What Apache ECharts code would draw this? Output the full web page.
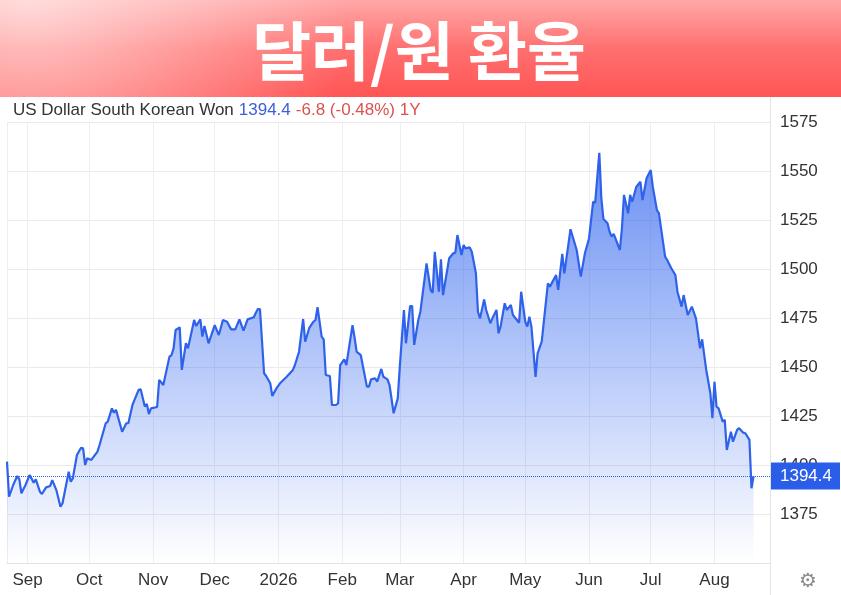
<!DOCTYPE html>
<html>
<head>
<meta charset="utf-8">
<script src="https://cdn.jsdelivr.net/npm/echarts@6.0.0/dist/echarts.min.js"></script>
<style>
  html, body { margin: 0; padding: 0; background: #fff; }
  #chart { width: 841px; height: 595px; }
</style>
</head>
<body>
<div id="chart"></div>
<script>
// 달러/원 환율 - 1년 (값은 그림에서 읽은 근사치)
const titleText = '달러/원 환율';
const pairName = 'US Dollar South Korean Won';
const lastPrice = 1394.4;
const changeText = '-6.8 (-0.48%)';
const rangeText = '1Y';

const axisStart = '2025-08-22';
const axisEnd = '2026-08-28';

const dates = [
  '2025-08-22', '2025-08-23', '2025-08-25', '2025-08-27', '2025-08-28', '2025-08-29', '2025-08-31',
  '2025-09-02', '2025-09-04', '2025-09-05', '2025-09-07', '2025-09-08', '2025-09-10', '2025-09-12',
  '2025-09-13', '2025-09-15', '2025-09-17', '2025-09-18', '2025-09-21', '2025-09-22', '2025-09-23',
  '2025-09-25', '2025-09-27', '2025-09-28', '2025-09-29', '2025-09-30',
  '2025-10-02', '2025-10-05', '2025-10-06', '2025-10-09', '2025-10-10', '2025-10-12', '2025-10-13',
  '2025-10-14', '2025-10-17', '2025-10-19', '2025-10-20', '2025-10-22', '2025-10-23', '2025-10-25',
  '2025-10-26', '2025-10-28', '2025-10-29', '2025-10-30', '2025-10-31',
  '2025-11-03', '2025-11-04', '2025-11-06', '2025-11-09', '2025-11-10', '2025-11-11', '2025-11-12',
  '2025-11-14', '2025-11-15', '2025-11-17', '2025-11-18', '2025-11-21', '2025-11-22', '2025-11-24',
  '2025-11-25', '2025-11-26', '2025-11-28',
  '2025-12-01', '2025-12-03', '2025-12-05', '2025-12-07', '2025-12-09', '2025-12-11', '2025-12-13',
  '2025-12-15', '2025-12-17', '2025-12-20', '2025-12-21', '2025-12-22', '2025-12-23', '2025-12-25',
  '2025-12-26', '2025-12-28', '2025-12-29', '2025-12-31',
  '2026-01-02', '2026-01-03', '2026-01-05', '2026-01-08', '2026-01-09', '2026-01-11', '2026-01-13',
  '2026-01-14', '2026-01-16', '2026-01-18', '2026-01-19', '2026-01-20', '2026-01-22', '2026-01-23',
  '2026-01-24', '2026-01-26', '2026-01-27', '2026-01-29', '2026-01-30', '2026-01-31',
  '2026-02-02', '2026-02-03', '2026-02-06', '2026-02-07', '2026-02-08', '2026-02-10', '2026-02-13',
  '2026-02-14', '2026-02-15', '2026-02-17', '2026-02-18', '2026-02-20', '2026-02-21', '2026-02-23',
  '2026-02-24', '2026-02-26', '2026-02-28',
  '2026-03-01', '2026-03-03', '2026-03-04', '2026-03-06', '2026-03-07', '2026-03-08', '2026-03-10',
  '2026-03-11', '2026-03-14', '2026-03-16', '2026-03-17', '2026-03-18', '2026-03-20', '2026-03-21',
  '2026-03-22', '2026-03-25', '2026-03-27', '2026-03-28', '2026-03-29', '2026-03-31',
  '2026-04-01', '2026-04-02', '2026-04-04', '2026-04-05', '2026-04-07', '2026-04-08', '2026-04-09',
  '2026-04-11', '2026-04-12', '2026-04-14', '2026-04-15', '2026-04-17', '2026-04-18', '2026-04-19',
  '2026-04-21', '2026-04-22', '2026-04-24', '2026-04-25', '2026-04-28', '2026-04-29',
  '2026-05-01', '2026-05-02', '2026-05-03', '2026-05-04', '2026-05-06', '2026-05-07', '2026-05-09',
  '2026-05-12', '2026-05-13', '2026-05-16', '2026-05-17', '2026-05-19', '2026-05-20', '2026-05-23',
  '2026-05-26', '2026-05-28', '2026-05-30',
  '2026-06-01', '2026-06-03', '2026-06-04', '2026-06-06', '2026-06-07', '2026-06-08', '2026-06-10',
  '2026-06-11', '2026-06-12', '2026-06-13', '2026-06-16', '2026-06-17', '2026-06-18', '2026-06-20',
  '2026-06-21', '2026-06-22', '2026-06-24', '2026-06-26', '2026-06-27', '2026-06-29',
  '2026-07-01', '2026-07-02', '2026-07-04', '2026-07-05', '2026-07-08', '2026-07-09', '2026-07-11',
  '2026-07-13', '2026-07-14', '2026-07-16', '2026-07-17', '2026-07-19', '2026-07-21', '2026-07-23',
  '2026-07-25', '2026-07-26', '2026-07-28', '2026-07-30', '2026-07-31',
  '2026-08-01', '2026-08-02', '2026-08-03', '2026-08-05', '2026-08-06', '2026-08-07', '2026-08-09',
  '2026-08-10', '2026-08-12', '2026-08-13', '2026-08-15', '2026-08-16', '2026-08-18', '2026-08-19',
  '2026-08-20'
];

const rates = [
  1401.7, 1383.8, 1389.8, 1394.4, 1392.7, 1385.6, 1389.8,
  1394.9, 1391.0, 1392.7, 1386.4, 1385.2, 1388.6, 1389.3,
  1392.3, 1387.2, 1378.7, 1380.5, 1396.6, 1391.5, 1393.2,
  1405.1, 1408.8, 1408.5, 1400.0, 1403.4,
  1402.6, 1406.8, 1410.2, 1421.3, 1422.1, 1428.9, 1426.7,
  1428.1, 1417.0, 1421.3, 1421.3, 1430.6, 1433.2, 1438.3,
  1438.6, 1429.8, 1431.1, 1426.0, 1428.9,
  1429.6, 1443.4, 1440.8, 1455.3, 1456.1, 1459.5, 1468.9,
  1470.2, 1448.5, 1462.1, 1459.5, 1474.0, 1470.9, 1474.3,
  1465.5, 1470.9, 1462.1,
  1471.4, 1466.3, 1474.0, 1473.1, 1469.2, 1469.2, 1474.3,
  1468.5, 1474.3, 1475.4, 1477.7, 1479.6, 1479.6, 1446.8,
  1445.4, 1441.7, 1435.2, 1439.1,
  1442.0, 1443.0, 1445.0, 1448.5, 1451.0, 1457.8, 1474.5,
  1462.9, 1470.0, 1473.1, 1474.0, 1480.5, 1465.5, 1464.1,
  1445.9, 1445.4, 1430.6, 1430.6, 1431.5, 1451.0,
  1453.9, 1451.0, 1471.4, 1465.1, 1457.8, 1456.1, 1440.0,
  1440.0, 1443.7, 1444.2, 1442.5, 1449.0, 1445.0, 1443.7,
  1440.8, 1426.4, 1434.0,
  1450.2, 1479.1, 1462.1, 1481.1, 1481.1, 1461.3, 1474.0,
  1478.2, 1502.9, 1489.3, 1487.9, 1508.8, 1488.4, 1505.0,
  1486.7, 1505.5, 1508.0, 1508.3, 1517.3, 1507.1,
  1512.2, 1510.5, 1511.0, 1508.8, 1497.8, 1478.2, 1474.8,
  1484.5, 1479.1, 1472.3, 1474.8, 1479.1, 1467.2, 1470.6,
  1482.5, 1479.1, 1481.6, 1476.5, 1472.6, 1488.4,
  1473.1, 1470.6, 1475.7, 1470.6, 1445.0, 1457.0, 1462.9,
  1492.7, 1491.0, 1496.9, 1489.3, 1507.7, 1497.8, 1520.3,
  1509.7, 1496.1, 1508.0,
  1515.6, 1534.3, 1533.8, 1559.3, 1536.0, 1525.5, 1523.3,
  1519.0, 1516.5, 1517.9, 1509.7, 1520.8, 1537.8, 1528.4,
  1537.8, 1534.3, 1542.0, 1544.5, 1535.2, 1546.3,
  1550.5, 1542.0, 1530.1, 1528.4, 1506.3, 1504.6, 1500.4,
  1496.9, 1488.4, 1480.8, 1486.7, 1476.5, 1480.8, 1474.8,
  1459.5, 1464.1, 1448.5, 1436.6, 1423.9,
  1442.5, 1429.8, 1428.9, 1422.1, 1423.0, 1407.7, 1417.0,
  1411.9, 1417.9, 1418.8, 1416.5, 1416.2, 1412.8, 1388.1,
  1394.4
];

const yMin = 1350;
const yMax = 1575;
const yStep = 25;

const font = 'Liberation Sans, Arial, sans-serif';
const lineBlue = '#2f62ea';

let myChart = echarts.init(document.getElementById('chart'));

let option = {
  animation: false,
  backgroundColor: '#ffffff',
  title: {
    left: 8,
    top: 96,
    text: '{name|' + pairName + '} {price|' + lastPrice.toFixed(1) + '} {chg|' + changeText + ' ' + rangeText + '}',
    textStyle: {
      fontWeight: 'normal',
      rich: {
        name: { color: '#333333', fontSize: 17, fontFamily: font, fontWeight: 'normal' },
        price: { color: '#3d5fd6', fontSize: 17, fontFamily: font, fontWeight: 'normal' },
        chg: { color: '#d9534f', fontSize: 17, fontFamily: font, fontWeight: 'normal' },
      },
    },
  },
  grid: { left: 7, right: 71, top: 122, bottom: 32 },
  xAxis: {
    type: 'time',
    min: axisStart,
    max: axisEnd,
    splitNumber: 12,
    axisLine: { show: true, lineStyle: { color: '#e3e3e3' } },
    axisTick: { show: false },
    splitLine: { show: true, lineStyle: { color: '#eeeeee' } },
    axisLabel: {
      color: '#333333',
      fontSize: 17,
      fontFamily: font,
      margin: 9,
      showMinLabel: false,
      showMaxLabel: false,
      formatter: { year: '{yyyy}', month: '{MMM}', day: '', hour: '', minute: '' },
    },
  },
  yAxis: {
    type: 'value',
    position: 'right',
    min: yMin,
    max: yMax,
    interval: yStep,
    axisLine: { show: false },
    axisTick: { show: false },
    splitLine: { lineStyle: { color: '#eaeaea' } },
    axisLabel: {
      color: '#333333',
      fontSize: 17,
      fontFamily: font,
      margin: 10,
      showMinLabel: false,
      formatter: (v) => String(v),
    },
  },
  graphic: [
    {
      type: 'rect',
      left: 0,
      top: 0,
      shape: { width: 841, height: 97 },
      style: {
        fill: new echarts.graphic.LinearGradient(0, 0, 0, 1, [
          { offset: 0, color: '#ffa8a8' },
          { offset: 0.5, color: '#ff7070' },
          { offset: 1, color: '#ff5555' },
        ]),
      },
      z: 10,
    },
    {
      type: 'rect',
      left: 0,
      top: 0,
      shape: { width: 841, height: 97 },
      style: {
        fill: new echarts.graphic.RadialGradient(30, 0, 320, [
          { offset: 0, color: 'rgba(255,255,255,0.6)' },
          { offset: 1, color: 'rgba(255,255,255,0)' },
        ], true),
      },
      z: 10,
    },
    {
      type: 'text',
      x: 419,
      y: 51,
      style: {
        text: titleText,
        fill: '#ffffff',
        fontSize: 64,
        fontWeight: 'bold',
        fontFamily: 'Noto Sans CJK KR',
        align: 'center',
        verticalAlign: 'middle',
      },
      z: 11,
    },
    {
      type: 'line',
      shape: { x1: 770.5, y1: 97, x2: 770.5, y2: 595 },
      style: { stroke: '#e3e3e3', lineWidth: 1 },
      z: 5,
    },
    {
      type: 'text',
      x: 808,
      y: 582,
      style: {
        text: '\u2699',
        fill: '#8a8a8a',
        fontSize: 20,
        fontFamily: 'DejaVu Sans',
        align: 'center',
        verticalAlign: 'middle',
      },
      z: 5,
    },
  ],
  series: [
    {
      type: 'line',
      data: dates.map((d, i) => [d, rates[i]]),
      showSymbol: false,
      symbol: 'none',
      lineStyle: { color: lineBlue, width: 2.2 },
      areaStyle: {
        origin: 'start',
        color: new echarts.graphic.LinearGradient(0, 0, 0, 1, [
          { offset: 0, color: 'rgba(42, 96, 238, 1)' },
          { offset: 0.45, color: 'rgba(42, 96, 238, 0.55)' },
          { offset: 1, color: 'rgba(42, 96, 238, 0.0)' },
        ]),
      },
      markLine: {
        silent: true,
        symbol: 'none',
        lineStyle: { color: lineBlue, type: 'dotted', width: 1 },
        label: {
          position: 'end',
          distance: 1,
          formatter: lastPrice.toFixed(1),
          color: '#ffffff',
          backgroundColor: '#2a5ee8',
          fontSize: 17,
          fontFamily: font,
          padding: [5, 8, 5, 9],
        },
        data: [{ yAxis: lastPrice }],
      },
    },
  ],
};

myChart.setOption(option);
</script>
</body>
</html>
